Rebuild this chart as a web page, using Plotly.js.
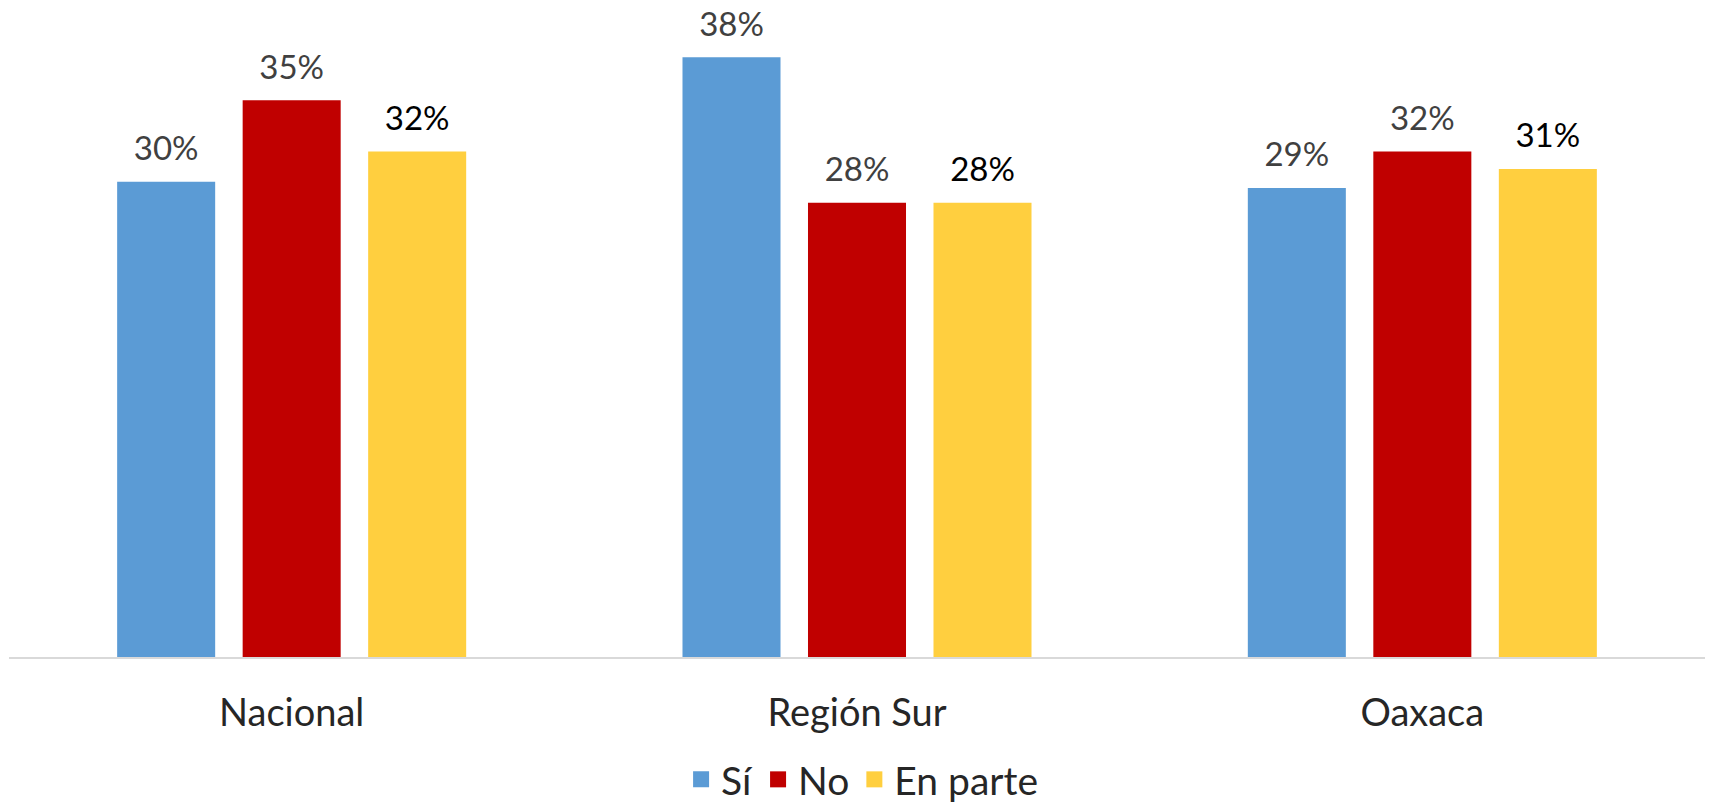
<!DOCTYPE html>
<html>
<head>
<meta charset="utf-8">
<script src="https://cdn.plot.ly/plotly-3.0.1.min.js"></script>
<style>html,body{margin:0;padding:0;background:#fff;}#chart{width:1710px;height:806px;}</style>
</head>
<body>
<div id="chart"></div>
<script>
const categories = ['Nacional', 'Región Sur', 'Oaxaca'];
const seriesNames = ['Sí', 'No', 'En parte'];
const si = [0.298, 0.376, 0.294];
const no = [0.349, 0.2848, 0.317];
const enParte = [0.317, 0.2848, 0.306];

const colors = ['#5B9BD5', '#C00000', '#FFCF3F'];
const labelColors = ['#404040', '#404040', '#000000'];
const FONT = 'Lato, "Open Sans", sans-serif';
const GAP = 0.334;
const groups = ['g1', 'g2', 'g3'];
const series = [si, no, enParte];

const bars = series.map((vals, i) => ({
  type: 'bar',
  name: seriesNames[i],
  x: categories,
  y: vals,
  offsetgroup: groups[i],
  marker: {color: colors[i]},
  showlegend: false,
  hoverinfo: 'skip'
}));

const labels = series.map((vals, i) => ({
  type: 'scatter',
  mode: 'markers+text',
  x: categories,
  y: vals,
  offsetgroup: groups[i],
  texttemplate: '%{y:.0%}',
  textposition: 'top center',
  textfont: {family: FONT, size: 33, color: labelColors[i]},
  marker: {size: 20, opacity: 0, color: colors[i]},
  cliponaxis: false,
  showlegend: false,
  hoverinfo: 'skip'
}));

const legendItems = series.map((vals, i) => ({
  type: 'scatter',
  mode: 'markers',
  name: seriesNames[i],
  x: [null],
  y: [null],
  offsetgroup: groups[i],
  marker: {symbol: 'square', size: 16, color: colors[i]},
  showlegend: true,
  hoverinfo: 'skip'
}));

const layout = {
  width: 1710, height: 806,
  margin: {l: 9, r: 5, t: 19.4, b: 149, autoexpand: false},
  paper_bgcolor: '#ffffff', plot_bgcolor: '#ffffff',
  barmode: 'group',
  bargap: GAP,
  bargroupgap: 0.219,
  scattermode: 'group',
  scattergap: GAP,
  showlegend: true,
  legend: {
    orientation: 'h', x: 0.503, xanchor: 'center', y: -0.192, yanchor: 'middle',
    font: {family: FONT, size: 39, color: '#262626'},
    itemsizing: 'trace',
    itemclick: false
  },
  xaxis: {
    showline: true, linecolor: '#D9D9D9', linewidth: 2,
    ticks: '', ticklabelstandoff: 21, automargin: false,
    tickfont: {family: FONT, size: 38, color: '#262626'},
    showgrid: false, zeroline: false, fixedrange: true
  },
  yaxis: {
    range: [0, 0.40], visible: false, showgrid: false, zeroline: false, fixedrange: true
  },
  font: {family: FONT}
};

Plotly.newPlot('chart', bars.concat(labels, legendItems), layout, {displayModeBar: false, staticPlot: true});
</script>
</body>
</html>
